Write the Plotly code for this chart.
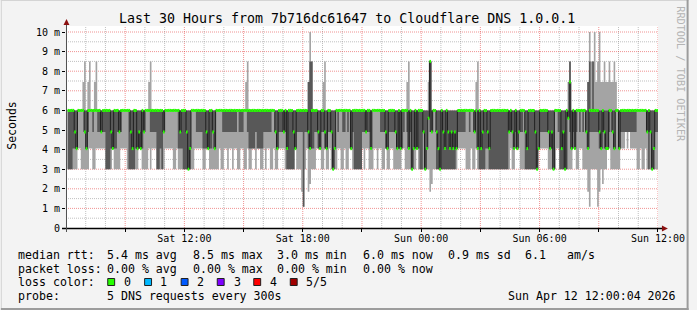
import plotly.graph_objects as go
from datetime import datetime, timedelta

TITLE = "Last 30 Hours from 7b716dc61647 to Cloudflare DNS 1.0.0.1"

# level codes -> milliseconds
LEVELS = {"0": 1.09, "1": 1.85, "2": 2.25, "a": 3.0, "b": 4.05, "c": 4.9,
          "h": 5.6, "d": 6.0, "e": 7.45, "f": 8.5, "g": 10.0}

# 5 sorted pings per 5-minute step (360 steps), 10 steps per block
P1 = ["aaaaaabbaa", "aaabbaabbb", "bbbaaaabaa", "aabbbbaaaa", "aaabbaaaab", "abbbaaaaab",
      "bbbbaabaaa", "aaaaaaabbb", "bbaabbaaaa", "aabaabbabb", "abbaabbaab", "aabbabbaab",
      "abbaabaabb", "bbaaaaaaba", "aa10ab12aa", "abbbaabaab", "aaaabbaaba", "abbaaaaaab",
      "abbaaabbab", "baabaabbaa", "aaabbaaaab", "aabaaaaaaa", "12aaaaaaaa", "aaaaaaabbb",
      "bbaaabaaba", "aaaaaaaaaa", "aaaaaaaaab", "aabbbaaaaa", "aaaaaabbbb", "bbaaaaabba",
      "aaaaaaabba", "abbaaa10aa", "aa01a2aabb", "aaaaaabbbc", "bcbbbbaaba", "abaaaaaaaa"]
P2 = ["aaabbbdddd", "cccddcddcc", "cccaaabbbb", "cccddddaaa", "abbbbbdddd", "ccccaabacd",
      "dddddddbbb", "aaaaadddcc", "ccbbbbbbcb", "ddddcccccc", "cccdcccddc", "bbbbcbbbbc",
      "ccccddcbcc", "cccaaaaabc", "ccc0ccbbbb", "ccbbccbbcc", "cabdcddccd", "cdbcaaaaac",
      "ccccbddddd", "cccbbccccc", "bbbbcdcbca", "bbbbaacabd", "ccddaaaaaa", "aaaaaabccc",
      "ccddcddcdb", "aaaabbaaaa", "aaaaaaaacc", "cbcbcccdaa", "aaaaaabccc", "ccccbaddca",
      "aaaadcbcbc", "dcdcdcbccc", "cccbbcbbbc", "dcbddbcccc", "ccccccdddd", "ddcacaaccc"]
P3 = ["ddddcbdddd", "cbdddddddd", "cdddddcbdd", "dcddddddcb", "ddbcbdcddd", "ddddddddcd",
      "ddddddddcd", "ddcabddddd", "ddddcbddcb", "dddddddddd", "dddddddddd", "dddddddddd",
      "ddddddcbdd", "dcdbdddcbd", "ddddddcbdd", "ddcbddcbdd", "cabddddddd", "ddbddddddd",
      "dcddbddddd", "dddcbddddc", "bdbddddbda", "bdbdddcabh", "fcddcbadcb", "dcbcbcbddd",
      "dddddddcdb", "dbcddcbddd", "ddddddddcd", "cbdbcdddcb", "ddddcabddd", "ddcbcadddd",
      "bcadhebdbd", "dddddcbddd", "dddcbdcbbd", "dcbddbdddd", "dddddddddd", "ddcdcabddd"]
P4 = ["dddddddddd"] * 14 + ["ddddddeffd"] + ["dddddddddd"] * 7 + ["fddddddddd"] + \
     ["dddddddddd"] * 7 + ["dddddfdddd", "ddddddefdf", "dddddddddd"] + ["dddddddddd"] * 3
P5 = ["ddddddddde", "fdefddefdd", "dddddddddd", "dddddddddd", "ddddddddde", "fddddddddd",
      "dddddddddd", "dddddddddd", "dddddddddd", "dddddddddd", "ddddddddef", "dddddddddd",
      "dddddddddd", "dddddddddd", "ddddddegfd", "dddddefddd", "dddddddddd", "dddddddddd",
      "dddddddddd", "dddddddddd", "ddddddefdd", "ddddddddde", "fddddddddd", "dddddddddd",
      "ddddddddef", "dddddddddd", "dddddddddd", "dddddddddd", "dddddddddd", "dddddddddd",
      "ddddefdddd", "ddddddegff", "gefgeefeef", "eefedddddd", "dddddddddd", "dddddddddd"]

Y_TICKS = [0, 1, 2, 3, 4, 5, 6, 7, 8, 9, 10]
Y_LABELS = ["0", "1 m", "2 m", "3 m", "4 m", "5 m", "6 m", "7 m", "8 m", "9 m", "10 m"]
X_LABELS = {"2026-04-11 12:00": "Sat 12:00", "2026-04-11 18:00": "Sat 18:00",
            "2026-04-12 00:00": "Sun 00:00", "2026-04-12 06:00": "Sun 06:00",
            "2026-04-12 12:00": "Sun 12:00"}

LEGEND_ROWS = [
    (255, [(16, "median rtt:"), (107, "5.4 ms avg"), (193.3, "8.5 ms max"), (279.3, "3.0 ms min"),
           (365.7, "6.0 ms now"), (451.8, "0.9 ms sd"), (530.5, "6.1"), (572.5, "am/s")]),
    (268.5, [(16, "packet loss:"), (107, "0.00 % avg"), (193.3, "0.00 % max"),
             (279.3, "0.00 % min"), (365.7, "0.00 % now")]),
    (282, [(16, "loss color:"), (123.3, "0"), (160.7, "1"), (197.7, "2"), (235, "3"),
           (271.7, "4"), (308.3, "5/5")]),
    (296, [(16, "probe:"), (107, "5 DNS requests every 300s"),
           (513.3, "Sun Apr 12 12:00:04 2026")]),
]
LOSS_COLORS = ["#26ff00", "#00b8ff", "#0059ff", "#7e00ff", "#ff0000", "#a10000"]
LOSS_BOX_X = [108.3, 145.7, 182.7, 219.3, 256.3, 293.3]


def vals(blocks):
    s = "".join(blocks)
    assert len(s) == 360, len(s)
    return [LEVELS[c] for c in s]


p1, p2, p3, p4, p5 = vals(P1), vals(P2), vals(P3), vals(P4), vals(P5)
p2 = [min(a, b) for a, b in zip(p2, p3)]
p1 = [min(a, b) for a, b in zip(p1, p2)]
p4 = [max(a, b) for a, b in zip(p4, p3)]
p5 = [max(a, b) for a, b in zip(p5, p4)]

t0 = datetime(2026, 4, 11, 6, 5, 0)
xs = [t0 + timedelta(minutes=5 * i) for i in range(361)]

FONT = "DejaVu Sans Mono"
L, T, W, H = 66, 26, 600, 202
PXMS = 19.6


def PX(X):
    return (X - L) / W


def PY(Y):
    return (T + H - Y) / H


fig = go.Figure()


def ext(a):
    return a + [a[-1]]


for lo, hi, col in [(p1, p5, "#a4a4a4"), (p2, p4, "#585858")]:
    fig.add_trace(go.Scatter(x=xs, y=ext(lo), mode="lines", line=dict(width=0, shape="hv"),
                             hoverinfo="skip", showlegend=False))
    fig.add_trace(go.Scatter(x=xs, y=ext(hi), mode="lines", line=dict(width=0, shape="hv"),
                             fill="tonexty", fillcolor=col, hoverinfo="skip", showlegend=False))

fig.add_trace(go.Scatter(x=xs, y=ext(p3), mode="lines",
                         line=dict(width=1, shape="hv", color="#202020"),
                         hoverinfo="skip", showlegend=False))

gx, gy = [], []
for i in range(360):
    gx += [xs[i], xs[i + 1], None]
    gy += [p3[i], p3[i], None]
fig.add_trace(go.Scatter(x=gx, y=gy, mode="lines", line=dict(width=3, color="#26ff00"),
                         hoverinfo="skip", showlegend=False))

shapes = []
start = datetime(2026, 4, 11, 6, 0, 4)
end = datetime(2026, 4, 12, 12, 0, 4)
MAJ = "rgba(225,40,40,0.5)"
MIN = "rgba(140,140,140,0.55)"
for h in range(1, 31):
    tx = datetime(2026, 4, 11, 6, 0) + timedelta(hours=h)
    major = h % 3 == 0
    shapes.append(dict(type="line", xref="x", yref="paper", x0=tx, x1=tx, y0=0, y1=1,
                       layer="below",
                       line=dict(width=1, dash="1px,1px", color=MAJ if major else MIN)))
for k in range(1, 21):
    yv = k * 0.5
    major = k % 2 == 0
    shapes.append(dict(type="line", xref="paper", yref="y", x0=0, x1=1, y0=yv, y1=yv,
                       layer="below",
                       line=dict(width=1, dash="1px,1px", color=MAJ if major else MIN)))
# axes
shapes.append(dict(type="line", xref="paper", yref="paper", x0=PX(62), x1=PX(671),
                   y0=PY(228.5), y1=PY(228.5), layer="above", line=dict(width=1.5, color="#000000")))
shapes.append(dict(type="line", xref="paper", yref="paper", x0=PX(66.5), x1=PX(66.5),
                   y0=PY(232), y1=PY(24), layer="above", line=dict(width=1, color="#505050")))
shapes.append(dict(type="path", xref="paper", yref="paper", layer="above",
                   path=f"M {PX(670)},{PY(225.5)} L {PX(676)},{PY(228.5)} L {PX(670)},{PY(231.5)} Z",
                   fillcolor="#8b1010", line=dict(width=0)))
shapes.append(dict(type="path", xref="paper", yref="paper", layer="above",
                   path=f"M {PX(63.5)},{PY(25)} L {PX(66.5)},{PY(19)} L {PX(69.5)},{PY(25)} Z",
                   fillcolor="#8b1010", line=dict(width=0)))
# frame
shapes.append(dict(type="line", xref="paper", yref="paper", x0=PX(0), x1=PX(697),
                   y0=PY(0.5), y1=PY(0.5), line=dict(width=1, color="#d4d4d4")))
shapes.append(dict(type="line", xref="paper", yref="paper", x0=PX(0.5), x1=PX(0.5),
                   y0=PY(0), y1=PY(310), line=dict(width=1, color="#d4d4d4")))
shapes.append(dict(type="line", xref="paper", yref="paper", x0=PX(0), x1=PX(697),
                   y0=PY(309), y1=PY(309), line=dict(width=2, color="#9c9c9c")))
shapes.append(dict(type="line", xref="paper", yref="paper", x0=PX(696), x1=PX(696),
                   y0=PY(0), y1=PY(310), line=dict(width=2, color="#9c9c9c")))
# loss colour boxes
for bx, col in zip(LOSS_BOX_X, LOSS_COLORS):
    shapes.append(dict(type="rect", xref="paper", yref="paper", x0=PX(bx), x1=PX(bx + 7),
                       y0=PY(285.5), y1=PY(278.5), fillcolor=col,
                       line=dict(width=1, color="#202020")))

ann = []
ann.append(dict(text=TITLE, xref="paper", yref="paper", x=PX(351), y=PY(19), showarrow=False,
                xanchor="center", yanchor="middle", font=dict(family=FONT, size=13.3, color="#000")))
ann.append(dict(text="Seconds", xref="paper", yref="paper", x=PX(11), y=PY(126), showarrow=False,
                textangle=-90, xanchor="center", yanchor="middle",
                font=dict(family=FONT, size=11.5, color="#000")))
ann.append(dict(text="RRDTOOL / TOBI OETIKER", xref="paper", yref="paper", x=PX(689), y=PY(74),
                showarrow=False, textangle=90, xanchor="center", yanchor="middle",
                font=dict(family=FONT, size=10.2, color="#b4b4b4")))
for yrow, items in LEGEND_ROWS:
    for xpos, txt in items:
        ann.append(dict(text=txt, xref="paper", yref="paper", x=PX(xpos), y=PY(yrow),
                        showarrow=False, xanchor="left", yanchor="middle", borderpad=0,
                        font=dict(family=FONT, size=11.6, color="#000")))

tickvals, ticktext = [], []
for h in range(3, 31, 3):
    tx = datetime(2026, 4, 11, 6, 0) + timedelta(hours=h)
    key = tx.strftime("%Y-%m-%d %H:%M")
    tickvals.append(key)
    ticktext.append(X_LABELS.get(key, ""))

fig.update_layout(
    width=697, height=310,
    margin=dict(l=L, r=697 - L - W, t=T, b=310 - T - H, pad=0),
    paper_bgcolor="#f3f3f3", plot_bgcolor="#ffffff",
    showlegend=False, shapes=shapes, annotations=ann,
    xaxis=dict(type="date", range=[start, end], showgrid=False, zeroline=False, showline=False,
               tickvals=tickvals, ticktext=ticktext, ticks="outside", ticklen=3,
               ticklabelstandoff=-2,
               tickcolor="#000", tickfont=dict(family=FONT, size=10, color="#000")),
    yaxis=dict(range=[0, H / PXMS], showgrid=False, zeroline=False, showline=False,
               tickvals=Y_TICKS, ticktext=Y_LABELS, ticks="outside", ticklen=3,
               tickcolor="#000", tickfont=dict(family=FONT, size=10, color="#000")),
)

fig.write_html("out.html")
